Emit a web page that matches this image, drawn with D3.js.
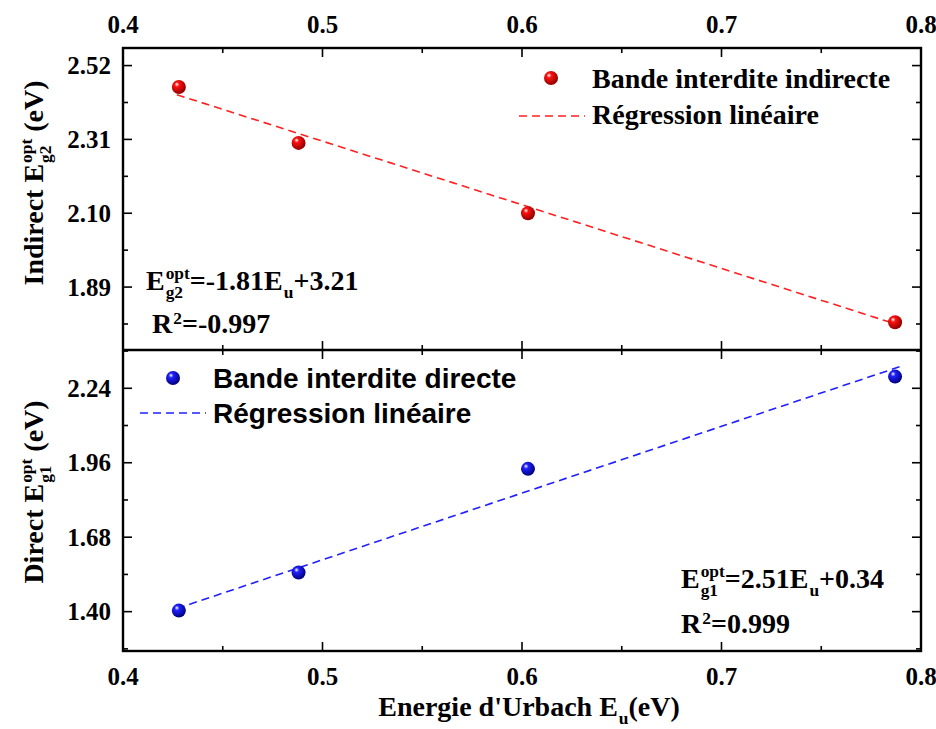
<!DOCTYPE html>
<html>
<head>
<meta charset="utf-8">
<script src="https://cdn.jsdelivr.net/npm/d3@7"></script>
<style>
  html, body { margin: 0; padding: 0; background: #fff; }
  svg { display: block; }
  text { font-weight: bold; white-space: pre; }
</style>
</head>
<body>
<svg id="chart" width="936" height="729"></svg>
<script>
// Urbach energy (eV) of each sample
const urbach = [0.428, 0.488, 0.603, 0.787];
// Indirect optical gap E_g2 (eV)
const indirectGap = [2.459, 2.300, 2.100, 1.790];
// Direct optical gap E_g1 (eV)
const directGap = [1.404, 1.547, 1.937, 2.284];
// Linear fits: [slope, intercept]
const indirectFit = [-1.81, 3.21];
const directFit = [2.51, 0.34];
const fitRange = [0.427, 0.790];
// Tick values
const xTicks = [0.4, 0.5, 0.6, 0.7, 0.8];
const xMinor = [0.45, 0.55, 0.65, 0.75];
const indirectTicks = [1.89, 2.10, 2.31, 2.52];
const directTicks = [1.40, 1.68, 1.96, 2.24];
const indirectDomain = [1.711, 2.570];
const directDomain = [1.252, 2.384];

const SERIF = "Liberation Serif, Times New Roman, serif";
const SANS = "Liberation Sans, Arial, sans-serif";

const svg = d3.select("#chart");
const pLeft = 123, pRight = 921, pTop = 48, pMid = 350, pBottom = 651;

const x = d3.scaleLinear().domain([0.4, 0.8]).range([pLeft, pRight]);
const yTop = d3.scaleLinear().domain(indirectDomain).range([pMid, pTop]);
const yBot = d3.scaleLinear().domain(directDomain).range([pBottom, pMid]);

// Sphere-like marker fills
const defs = svg.append("defs");
function ball(id, base, dark) {
  const g = defs.append("radialGradient").attr("id", id)
    .attr("cx", "40%").attr("cy", "38%").attr("r", "62%").attr("fx", "35%").attr("fy", "30%");
  g.append("stop").attr("offset", "0%").attr("stop-color", "#ffffff");
  g.append("stop").attr("offset", "28%").attr("stop-color", base);
  g.append("stop").attr("offset", "100%").attr("stop-color", dark);
}
ball("ballRed", "#ff1010", "#900000");
ball("ballBlue", "#2020ff", "#00007a");

// Text made of pieces: normal, superscript, subscript, or stacked sup+sub
function rich(parent, parts, size, family, anchor) {
  const g = parent.append("g").attr("font-family", family).attr("font-size", size);
  let cx = 0;
  const small = size * 0.62;
  parts.forEach(p => {
    if (p.n !== undefined) {
      const t = g.append("text").attr("x", cx).attr("y", 0).text(p.n);
      cx += t.node().getComputedTextLength();
    } else {
      let w = 0;
      if (p.sup !== undefined) {
        const t = g.append("text").attr("x", cx + 1).attr("y", -size * (p.supRaise || 0.38))
          .attr("font-size", p.supSize || small).text(p.sup);
        w = Math.max(w, t.node().getComputedTextLength());
      }
      if (p.sub !== undefined) {
        const t = g.append("text").attr("x", cx + 1).attr("y", size * (p.subDrop || 0.28))
          .attr("font-size", small).text(p.sub);
        w = Math.max(w, t.node().getComputedTextLength());
      }
      cx += w + 1;
    }
  });
  if (anchor === "middle") g.selectAll("text").attr("transform", `translate(${-cx / 2},0)`);
  return g;
}

const major = 9, minor = 5;

function panelAxes(y, ticks, domain, y0, y1) {
  const step = ticks[1] - ticks[0];
  const minors = [];
  for (let v = ticks[0] - step / 2; v <= domain[1] + 1e-6; v += step) if (v >= domain[0] - 1e-6) minors.push(v);
  const g = svg.append("g").attr("stroke", "#000").attr("stroke-width", 1.6);
  // left / right ticks (pointing inward)
  ticks.forEach(v => {
    g.append("line").attr("x1", pLeft).attr("x2", pLeft + major).attr("y1", y(v)).attr("y2", y(v));
    g.append("line").attr("x1", pRight).attr("x2", pRight - major).attr("y1", y(v)).attr("y2", y(v));
  });
  minors.forEach(v => {
    g.append("line").attr("x1", pLeft).attr("x2", pLeft + minor).attr("y1", y(v)).attr("y2", y(v));
    g.append("line").attr("x1", pRight).attr("x2", pRight - minor).attr("y1", y(v)).attr("y2", y(v));
  });
  // top / bottom ticks (pointing inward)
  xTicks.forEach(v => {
    g.append("line").attr("x1", x(v)).attr("x2", x(v)).attr("y1", y0).attr("y2", y0 + major);
    g.append("line").attr("x1", x(v)).attr("x2", x(v)).attr("y1", y1).attr("y2", y1 - major);
  });
  xMinor.forEach(v => {
    g.append("line").attr("x1", x(v)).attr("x2", x(v)).attr("y1", y0).attr("y2", y0 + minor);
    g.append("line").attr("x1", x(v)).attr("x2", x(v)).attr("y1", y1).attr("y2", y1 - minor);
  });
  // tick labels
  svg.append("g").attr("font-family", SERIF).attr("font-size", 25).attr("text-anchor", "end")
    .selectAll("text").data(ticks).join("text")
    .attr("x", pLeft - 12).attr("y", d => y(d) + 8.5)
    .text(d => d.toFixed(2));
}

panelAxes(yTop, indirectTicks, indirectDomain, pTop, pMid);
panelAxes(yBot, directTicks, directDomain, pMid, pBottom);

// frame
svg.append("rect").attr("x", pLeft).attr("y", pTop).attr("width", pRight - pLeft).attr("height", pBottom - pTop)
  .attr("fill", "none").attr("stroke", "#000").attr("stroke-width", 2.4);
svg.append("line").attr("x1", pLeft).attr("x2", pRight).attr("y1", pMid).attr("y2", pMid)
  .attr("stroke", "#000").attr("stroke-width", 2.4);

// x tick labels, top and bottom
const xl = svg.append("g").attr("font-family", SERIF).attr("font-size", 25).attr("text-anchor", "middle");
xl.selectAll(".t").data(xTicks).join("text").attr("class", "t").attr("x", d => x(d)).attr("y", 33)
  .text(d => d3.format(".1f")(d));
xl.selectAll(".b").data(xTicks).join("text").attr("class", "b").attr("x", d => x(d)).attr("y", 685)
  .text(d => d3.format(".1f")(d));

// regression lines
const line = (y, fit) => d3.line().x(d => x(d)).y(d => y(fit[0] * d + fit[1]));
svg.append("path").datum(fitRange).attr("d", line(yTop, indirectFit))
  .attr("fill", "none").attr("stroke", "#ff2020").attr("stroke-width", 1.6).attr("stroke-dasharray", "8,5");
svg.append("path").datum(fitRange).attr("d", line(yBot, directFit))
  .attr("fill", "none").attr("stroke", "#2020ff").attr("stroke-width", 1.6).attr("stroke-dasharray", "8,5");

// data points
svg.append("g").selectAll("circle").data(urbach).join("circle")
  .attr("cx", d => x(d)).attr("cy", (d, i) => yTop(indirectGap[i])).attr("r", 7)
  .attr("fill", "url(#ballRed)");
svg.append("g").selectAll("circle").data(urbach).join("circle")
  .attr("cx", d => x(d)).attr("cy", (d, i) => yBot(directGap[i])).attr("r", 7)
  .attr("fill", "url(#ballBlue)");

// legends
svg.append("circle").attr("cx", 551).attr("cy", 78).attr("r", 7).attr("fill", "url(#ballRed)");
svg.append("text").attr("font-family", SERIF).attr("font-size", 28).attr("x", 592).attr("y", 88).text("Bande interdite indirecte");
svg.append("line").attr("x1", 519).attr("x2", 585).attr("y1", 116).attr("y2", 116)
  .attr("stroke", "#ff2020").attr("stroke-width", 1.6).attr("stroke-dasharray", "8,5");
svg.append("text").attr("font-family", SERIF).attr("font-size", 28).attr("x", 592).attr("y", 124).text("Régression linéaire");

svg.append("circle").attr("cx", 173).attr("cy", 378).attr("r", 7).attr("fill", "url(#ballBlue)");
svg.append("text").attr("font-family", SANS).attr("font-size", 28).attr("x", 213).attr("y", 388).text("Bande interdite directe");
svg.append("line").attr("x1", 140).attr("x2", 206).attr("y1", 413).attr("y2", 413)
  .attr("stroke", "#2020ff").attr("stroke-width", 1.6).attr("stroke-dasharray", "8,5");
svg.append("text").attr("font-family", SANS).attr("font-size", 28).attr("x", 213).attr("y", 423).text("Régression linéaire");

// fit equations and R²
function fitLabel(xp, yp, sub, fit) {
  const s = fit[1] >= 0 ? "+" : "-";
  rich(svg.append("g").attr("transform", `translate(${xp},${yp})`), [
    { n: "E" }, { sup: "opt", sub: sub },
    { n: "=" + fit[0].toFixed(2) + "E" }, { sub: "u" },
    { n: s + Math.abs(fit[1]).toFixed(2) }
  ], 28, SERIF);
}
function r2Label(xp, yp, val) {
  rich(svg.append("g").attr("transform", `translate(${xp},${yp})`), [
    { n: "R" }, { sup: "2", supRaise: 0.33 }, { n: "=" + val }
  ], 28, SERIF);
}
fitLabel(146, 290, "g2", indirectFit);
r2Label(152, 333, "-0.997");
fitLabel(681, 588, "g1", directFit);
r2Label(681, 633, "0.999");

// y-axis titles
function yTitle(cx, cy, word, sub) {
  rich(svg.append("g").attr("transform", `translate(${cx},${cy}) rotate(-90)`), [
    { n: word + " E" }, { sup: "opt", sub: sub }, { n: " (eV)" }
  ], 28, SERIF, "middle");
}
yTitle(43, 183, "Indirect", "g2");
yTitle(43, 492, "Direct", "g1");

// x-axis title
rich(svg.append("g").attr("transform", "translate(529,716)"), [
  { n: "Energie d'Urbach E" }, { sub: "u" }, { n: "(eV)" }
], 28, SERIF, "middle");
</script>
</body>
</html>
